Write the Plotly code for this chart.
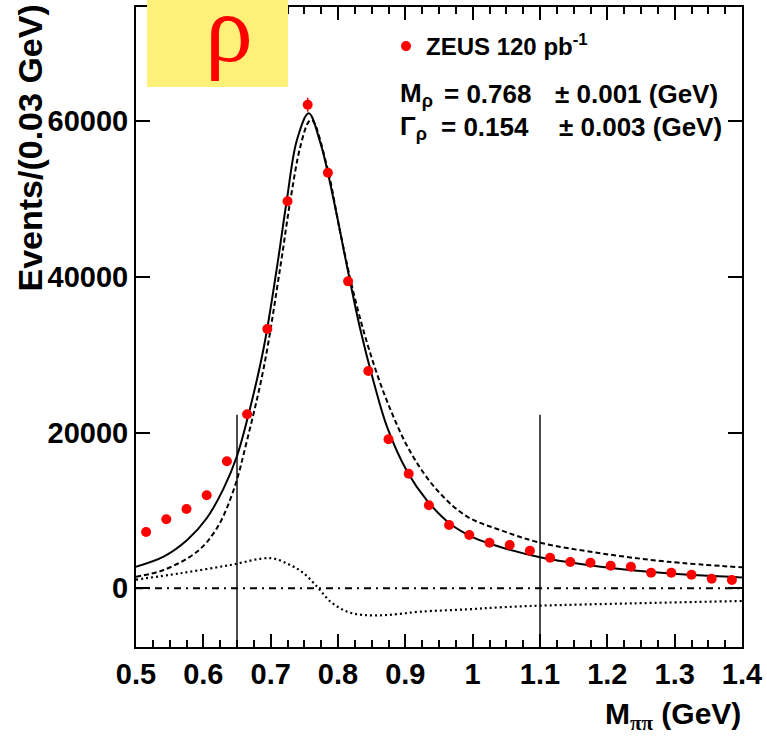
import plotly.graph_objects as go

# ---- data ----
mass_centres = [0.515, 0.545, 0.575, 0.605, 0.635, 0.665, 0.695, 0.725, 0.755, 0.785,
                0.815, 0.845, 0.875, 0.905, 0.935, 0.965, 0.995, 1.025, 1.055, 1.085,
                1.115, 1.145, 1.175, 1.205, 1.235, 1.265, 1.295, 1.325, 1.355, 1.385]
events = [7230, 8860, 10190, 11950, 16310, 22350, 33310, 49710, 62120, 53380,
          39430, 27910, 19140, 14720, 10660, 8130, 6850, 5860, 5560, 4830,
          3930, 3380, 3290, 2900, 2770, 2000, 2000, 1750, 1230, 1070]
event_err = [150, 150, 160, 180, 220, 260, 330, 450, 900, 500,
             350, 280, 220, 190, 160, 140, 130, 120, 120, 110,
             100, 90, 90, 90, 90, 80, 80, 80, 70, 70]

fit_x = [0.500, 0.541, 0.576, 0.605, 0.630, 0.650, 0.670, 0.690, 0.7095, 0.724,
         0.739, 0.7565, 0.774, 0.7936, 0.8135, 0.833, 0.853, 0.873, 0.9027, 0.932,
         0.967, 1.0016, 1.041, 1.1, 1.19, 1.289, 1.4]
fit_y = [2770, 4060, 6200, 9000, 12800, 17000, 23330, 31030, 41310, 49880,
         57590, 61010, 57160, 49880, 41310, 33300, 26500, 20700, 15000, 11300,
         8250, 6500, 5300, 3980, 2770, 1930, 1400]

bw_x = [0.500, 0.541, 0.5906, 0.620, 0.645, 0.665, 0.690, 0.7144, 0.7293, 0.744,
        0.7565, 0.7615, 0.7838, 0.8036, 0.8233, 0.845, 0.873, 0.9076, 0.947, 0.992,
        1.041, 1.1, 1.19, 1.289, 1.4]
bw_y = [1490, 2350, 4700, 7700, 12630, 19050, 28460, 41310, 49880, 56720,
        59930, 60150, 54150, 45600, 37900, 31000, 24000, 17500, 12630, 9200,
        7490, 5860, 4500, 3420, 2690]

intf_x = [0.500, 0.566, 0.640, 0.700, 0.729, 0.749, 0.769, 0.789, 0.8135, 0.838,
          0.873, 0.9225, 0.992, 1.041, 1.1, 1.239, 1.4]
intf_y = [1120, 1930, 2990, 3870, 2990, 1930, 200, -1720, -3000, -3430,
          -3430, -3000, -2700, -2440, -2230, -1930, -1630]

zero_x = [0.5, 1.4]
zero_y = [0, 0]

cut_x = [0.65, 1.1]
cut_top = 22300

x_ticks = [0.5, 0.6, 0.7, 0.8, 0.9, 1.0, 1.1, 1.2, 1.3, 1.4]
x_ticktext = ["0.5", "0.6", "0.7", "0.8", "0.9", "1", "1.1", "1.2", "1.3", "1.4"]
y_ticks = [0, 20000, 40000, 60000]
y_ticktext = ["0", "20000", "40000", "60000"]
y_range = [-7540, 74670]

# ---- figure ----
W, H = 767, 743
ML, MR, MT, MB = 136, 25, 7, 96
PW, PH = W - ML - MR, H - MT - MB


def px(xp):
    return (xp - ML) / PW


def py(yp):
    return (H - MB - yp) / PH


fig = go.Figure()

for cx in cut_x:
    fig.add_trace(go.Scatter(x=[cx, cx], y=[y_range[0], cut_top], mode="lines",
                             line=dict(color="black", width=1.4), showlegend=False,
                             hoverinfo="skip"))

fig.add_trace(go.Scatter(x=zero_x, y=zero_y, mode="lines",
                         line=dict(color="black", width=2, dash="7px,5px,2px,5px"),
                         showlegend=False))
fig.add_trace(go.Scatter(x=intf_x, y=intf_y, mode="lines", line_shape="spline",
                         line=dict(color="black", width=2.2, dash="2px,3px"),
                         showlegend=False))
fig.add_trace(go.Scatter(x=bw_x, y=bw_y, mode="lines", line_shape="spline",
                         line=dict(color="black", width=2, dash="5px,3px"),
                         showlegend=False))
fig.add_trace(go.Scatter(x=fit_x, y=fit_y, mode="lines", line_shape="spline",
                         line=dict(color="black", width=2), showlegend=False))
fig.add_trace(go.Scatter(x=mass_centres, y=events, mode="markers",
                         marker=dict(color="#ff0000", size=10),
                         error_y=dict(type="data", array=event_err, color="#ff0000",
                                      thickness=1.5, width=0),
                         name="ZEUS 120 pb<sup>-1</sup>", showlegend=True))

tickfont = dict(family="Liberation Sans", size=29, color="black", weight="bold")

fig.update_xaxes(range=[0.5, 1.4], tickvals=x_ticks, ticktext=x_ticktext,
                 ticks="inside", ticklen=13, tickwidth=1.5, tickcolor="black",
                 showline=True, linewidth=2, linecolor="black", mirror="ticks",
                 showgrid=False, zeroline=False, tickfont=tickfont, automargin=False,
                 minor=dict(ticks="inside", ticklen=7, tickwidth=1.5,
                            tickcolor="black", dtick=0.025, tick0=0.5, showgrid=False))
fig.update_yaxes(range=y_range, tickvals=y_ticks, ticktext=y_ticktext,
                 ticks="inside", ticklen=14, tickwidth=1.5, tickcolor="black",
                 showline=True, linewidth=2, linecolor="black", mirror="ticks",
                 showgrid=False, zeroline=False, tickfont=tickfont, automargin=False)

shapes = [dict(type="rect", xref="paper", yref="paper", x0=px(147), x1=px(288),
               y0=py(87), y1=py(0), fillcolor="#fff07a", line=dict(width=0),
               layer="above")]

annotations = [
    dict(text="ρ", x=px(229), y=py(28), xref="paper", yref="paper",
         xanchor="center", yanchor="middle", showarrow=False,
         font=dict(family="Liberation Serif, DejaVu Serif, serif", size=96, color="#ff0000")),
    dict(text="Events/(0.03 GeV)", x=px(30), y=py(3), xref="paper", yref="paper",
         xanchor="center", yanchor="top", textangle=-90, showarrow=False,
         font=dict(family="Liberation Sans", size=34, color="black", weight="bold")),
    dict(text="M<sub><span style='font-family:Liberation Serif'>ππ</span></sub> (GeV)",
         x=px(743), y=py(716), xref="paper", yref="paper",
         xanchor="right", yanchor="middle", showarrow=False,
         font=dict(family="Liberation Sans", size=30, color="black", weight="bold")),
]

stat_font = dict(family="Liberation Sans", size=26, color="black", weight="bold")
rows = [
    (94, "M<sub>ρ</sub>", 442, "= 0.768", 553, "± 0.001 (GeV)"),
    (127, "Γ<sub>ρ</sub>", 439, "= 0.154", 557, "± 0.003 (GeV)"),
]
for yc, lab, x2, val, x3, err in rows:
    annotations.append(dict(text=lab, x=px(398), y=py(yc), xref="paper", yref="paper",
                            xanchor="left", yanchor="middle", showarrow=False, font=stat_font))
    annotations.append(dict(text=val, x=px(x2), y=py(yc), xref="paper", yref="paper",
                            xanchor="left", yanchor="middle", showarrow=False, font=stat_font))
    annotations.append(dict(text=err, x=px(x3), y=py(yc), xref="paper", yref="paper",
                            xanchor="left", yanchor="middle", showarrow=False, font=stat_font))

fig.update_layout(
    width=W, height=H,
    margin=dict(l=ML, r=MR, t=MT, b=MB, pad=0, autoexpand=False),
    paper_bgcolor="white", plot_bgcolor="white",
    shapes=shapes, annotations=annotations,
    legend=dict(x=px(386), y=py(24), xanchor="left", yanchor="top",
                bgcolor="rgba(0,0,0,0)", borderwidth=0,
                font=dict(family="Liberation Sans", size=24, color="black", weight="bold")),
)

fig.write_html("out.html", config={"displayModeBar": False},
               post_script="document.body.style.margin='0';document.body.style.padding='0';")
